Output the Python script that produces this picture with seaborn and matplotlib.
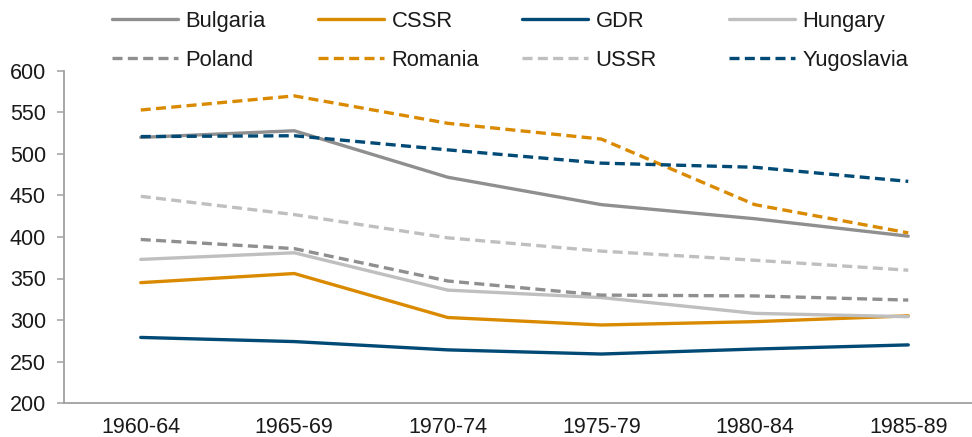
import matplotlib
matplotlib.use("Agg")
import matplotlib.pyplot as plt
from matplotlib.lines import Line2D
import seaborn as sns
import pandas as pd

periods = ["1960-64", "1965-69", "1970-74", "1975-79", "1980-84", "1985-89"]
countries = ["Bulgaria", "CSSR", "GDR", "Hungary", "Poland", "Romania", "USSR", "Yugoslavia"]

bulgaria = [520, 528, 472, 439, 422, 401]
cssr = [345, 356, 303, 294, 298, 305]
gdr = [279, 274, 264, 259, 265, 270]
hungary = [373, 381, 336, 327, 308, 304]
poland = [397, 386, 347, 330, 329, 324]
romania = [553, 570, 537, 518, 439, 405]
ussr = [449, 427, 399, 383, 372, 360]
yugoslavia = [521, 522, 505, 489, 484, 467]

values = [bulgaria, cssr, gdr, hungary, poland, romania, ussr, yugoslavia]

colors = {"Bulgaria": "#8F8F8F", "CSSR": "#DA8A00", "GDR": "#004A75", "Hungary": "#BFBFBF",
          "Poland": "#8F8F8F", "Romania": "#DA8A00", "USSR": "#BFBFBF", "Yugoslavia": "#004A75"}
dash = (3.0, 1.6)
dashes = {"Bulgaria": "", "CSSR": "", "GDR": "", "Hungary": "",
          "Poland": dash, "Romania": dash, "USSR": dash, "Yugoslavia": dash}

rows = []
for c, vals in zip(countries, values):
    for p, v in zip(periods, vals):
        rows.append({"period": p, "country": c, "value": v})
df = pd.DataFrame(rows)

sns.set_theme(style="white")
plt.rcParams["font.family"] = ["Liberation Sans", "DejaVu Sans"]

fig = plt.figure(figsize=(9.72, 4.37), dpi=100)
ax = fig.add_axes([64 / 972, 34 / 437, 921 / 972, 332 / 437])

lw = 2.4
sns.lineplot(data=df, x="period", y="value", hue="country", style="country",
             hue_order=countries, style_order=countries, palette=colors, dashes=dashes,
             linewidth=lw, sort=False, legend=False, ax=ax)

ax.set_xlim(-0.5, 5.5)
ax.set_ylim(200, 600)
ax.set_yticks(range(200, 601, 50))
ax.set_xlabel("")
ax.set_ylabel("")
for s in ["top", "right"]:
    ax.spines[s].set_visible(False)
for s in ["left", "bottom"]:
    ax.spines[s].set_color("#A0A0A0")
    ax.spines[s].set_linewidth(1.3)
ax.tick_params(axis="y", which="major", length=5, width=1.1, color="#A0A0A0", pad=8,
               labelsize=15.5, labelcolor="#1a1a1a", left=True)
ax.tick_params(axis="x", length=0, pad=10, labelsize=15.5, labelcolor="#1a1a1a")
ax.grid(False)

# legend: four columns, each its own legend for even spacing
col_x = [112, 318, 522, 729]
for i, x in enumerate(col_x):
    names = [countries[i], countries[i + 4]]
    handles = [Line2D([0], [0], color=colors[n], linewidth=lw,
                      linestyle=(0, dashes[n]) if dashes[n] else "-")
               for n in names]
    fig.legend(handles, names, loc="upper left", bbox_to_anchor=(x / 972, 1 - 11 / 437),
               frameon=False, fontsize=15.8, handlelength=3.0, handletextpad=0.35,
               labelspacing=0.8, borderpad=0, borderaxespad=0, labelcolor="#1a1a1a")

fig.savefig("out.png", dpi=100)
